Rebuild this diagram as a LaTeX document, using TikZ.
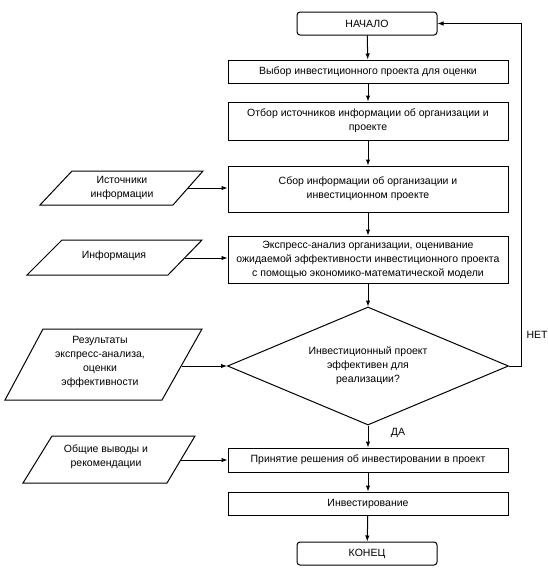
\documentclass[tikz,border=0pt]{standalone}
\usepackage{fontspec}
\setmainfont{Liberation Sans}
\usetikzlibrary{shapes.geometric,arrows.meta}
\newcommand\diagfont{\fontsize{10.5}{14}\selectfont}
\begin{document}
\begin{tikzpicture}[x=1pt,y=-1pt,
  line width=1pt,
  font=\diagfont,
  proc/.style={draw, rectangle, minimum width=280pt, align=center, inner sep=2pt},
  term/.style={draw, rectangle, rounded corners=3pt, minimum width=140pt, minimum height=23pt},
  dec/.style={draw, diamond, aspect=2.38, minimum width=281pt, minimum height=118pt, inner sep=0pt, align=center},
  txt/.style={align=center, inner sep=1pt},
  arr/.style={-{Latex[length=6pt,width=4.5pt]}}
]
\useasboundingbox (0,0) rectangle (547,570);

% main column
\node[term] (start) at (367,23.5) {НАЧАЛО};
\node[proc, minimum height=23pt] (b1) at (368,71.5) {Выбор инвестиционного проекта для оценки};
\node[proc, minimum height=38pt] (b2) at (368,121) {Отбор источников информации об организации и\\проекте};
\node[proc, minimum height=46pt] (b3) at (368,189) {Сбор информации об организации и\\инвестиционном проекте};
\node[proc, minimum height=47pt] (b4) at (368,259.5) {Экспресс-анализ организации, оценивание\\ожидаемой эффективности инвестиционного проекта\\с помощью экономико-математической модели};
\node[dec] (dia) at (368,366) {Инвестиционный проект\\эффективен для\\реализации?};
\node[proc, minimum height=24pt] (b5) at (368,460) {Принятие решения об инвестировании в проект};
\node[proc, minimum height=23pt] (b6) at (368,503.5) {Инвестирование};
\node[term] (end) at (367,553.5) {КОНЕЦ};

\draw[arr] (start) -- (b1);
\draw[arr] (b1) -- (b2);
\draw[arr] (b2) -- (b3);
\draw[arr] (b3) -- (b4);
\draw[arr] (b4) -- (dia);
\draw[arr] (dia) -- (b5);
\draw[arr] (b5) -- (b6);
\draw[arr] (b6) -- (end);

% loop back
\coordinate (lp) at (521,0);
\draw[arr] (dia.east) -- (dia.east -| lp) -- (lp |- start.east) -- (start.east);
\node (net) at (537,335) {НЕТ};
\node (da) at (398,433) {ДА};

% data parallelograms
\draw (40,205) -- (173,205) -- (203,171) -- (72,171) -- cycle;
\node[txt] (src) at (122,188) {Источники\\информации};
\coordinate (srcR) at (188,188);
\draw[arr] (srcR) -- (srcR -| b3.west);

\draw (27,275) -- (168,275) -- (202,240) -- (62,240) -- cycle;
\node[txt] (inf) at (114,256) {Информация};
\coordinate (infR) at (185,258);
\draw[arr] (infR) -- (infR -| b4.west);

\draw (5,400) -- (162,400) -- (202,329) -- (43,329) -- cycle;
\node[txt] (res) at (100,362) {Результаты\\экспресс-анализа,\\оценки\\эффективности};
\coordinate (resR) at (182,366);
\draw[arr] (resR) -- (dia.west);

\draw (23,483) -- (167,483) -- (195,436) -- (52,436) -- cycle;
\node[txt] (gen) at (106,457) {Общие выводы и\\рекомендации};
\coordinate (genR) at (181,460);
\draw[arr] (genR) -- (genR -| b5.west);
\end{tikzpicture}
\end{document}
